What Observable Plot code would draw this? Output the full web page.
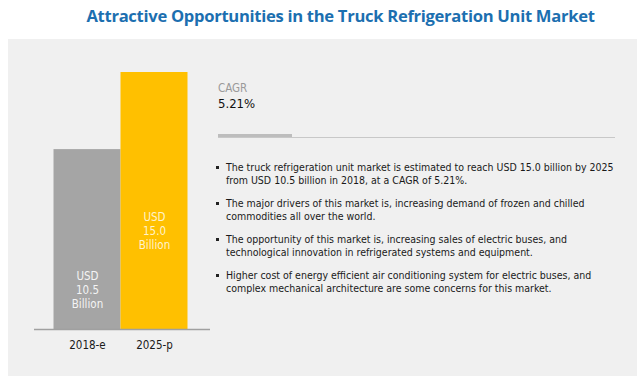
<!DOCTYPE html>
<html>
<head>
<meta charset="utf-8">
<script src="https://cdn.jsdelivr.net/npm/d3@7"></script>
<script src="https://cdn.jsdelivr.net/npm/@observablehq/plot@0.6"></script>
<style>
  body { margin: 0; background: #fff; width: 643px; height: 381px; position: relative; overflow: hidden; }
  #title { position: absolute; left: 0; width: 681px; top: 4px; text-align: center;
    font-family: "Open Sans", sans-serif; font-weight: 700; font-size: 16.6px; color: #1c6fb0; letter-spacing: -0.3px; }
  #panel { position: absolute; left: 8px; top: 39px; width: 629px; height: 337px; background: #f0f0f0; }
  #chart { position: absolute; left: 0; top: 0; }
  .narrow { font-family: "Liberation Sans Narrow", "DejaVu Sans Condensed", sans-serif; }
  #cagrLabel { position: absolute; left: 210px; top: 42px; font-size: 11.5px; color: #9a9a9a; }
  #cagrValue { position: absolute; left: 210px; top: 57px; font-size: 13px; color: #111; }
  #thick { position: absolute; left: 210px; top: 95px; width: 74px; height: 3px; background: #bdbdbd; }
  #thin { position: absolute; left: 210px; top: 98px; width: 397px; height: 1px; background: #c8c8c8; }
  #bullets { position: absolute; left: 207px; top: 122px; margin: 0; padding: 0; list-style: none;
    font-size: 10.5px; color: #1a1a1a; line-height: 13px; }
  #bullets li { position: relative; padding-left: 11px; margin-bottom: 10px; white-space: nowrap; }
  #bullets li::before { content: ""; position: absolute; left: 1px; top: 5px; width: 3px; height: 3px; background: #222; }
</style>
</head>
<body>
<div id="title"></div>
<div id="panel">
  <div id="chart"></div>
  <div id="cagrLabel" class="narrow"></div>
  <div id="cagrValue" class="narrow"></div>
  <div id="thick"></div>
  <div id="thin"></div>
  <ul id="bullets" class="narrow"></ul>
</div>
<script>
const title = "Attractive Opportunities in the Truck Refrigeration Unit Market";
const years = ["2018-e", "2025-p"];
const values = [10.5, 15.0];
const barColors = ["#a5a5a5", "#ffc000"];
const labelColors = ["#f4f4f4", "#fff3cc"];
const cagrLabel = "CAGR";
const cagrValue = "5.21%";
const bullets = [
  ["The truck refrigeration unit market is estimated to reach USD 15.0 billion by 2025", "from USD 10.5 billion in 2018, at a CAGR of 5.21%."],
  ["The major drivers of this market is, increasing demand of frozen and chilled", "commodities all over the world."],
  ["The opportunity of this market is, increasing sales of electric buses, and", "technological innovation in refrigerated systems and equipment."],
  ["Higher cost of energy efficient air conditioning system for electric buses, and", "complex mechanical architecture are some concerns for this market."]
];

document.getElementById("title").textContent = title;
document.getElementById("cagrLabel").textContent = cagrLabel;
document.getElementById("cagrValue").textContent = cagrValue;
const ul = document.getElementById("bullets");
for (const b of bullets) {
  const li = document.createElement("li");
  li.innerHTML = b.map(s => s.replace(/&/g, "&amp;")).join("<br>");
  ul.appendChild(li);
}

const data = years.map((y, i) => ({year: y, value: values[i], color: barColors[i], lc: labelColors[i],
  label: "USD\n" + values[i].toFixed(1) + "\nBillion"}));
// label vertical placement as fraction of bar value
const labelFrac = [0.222, 0.385];

const font = '"Liberation Sans Narrow", "DejaVu Sans Condensed", sans-serif';
const chart = Plot.plot({
  width: 220,
  height: 337,
  marginLeft: 26,
  marginRight: 18,
  marginTop: 33,
  marginBottom: 47,
  style: {background: "transparent", fontFamily: font},
  x: {domain: years, paddingInner: 0, paddingOuter: 0.3, label: null, tickSize: 0, tickPadding: 10},
  y: {domain: [0, 15], axis: null},
  marks: [
    Plot.barY(data, {x: "year", y: "value", fill: "color", dx: -1.5}),
    Plot.ruleY([0], {stroke: "#a0a0a0", strokeWidth: 1.5}),
    Plot.text(data, {x: "year", y: (d, i) => d.value * labelFrac[i], text: "label", fill: "lc",
      fontSize: 11.5, lineHeight: 1.22, dx: -1.5}),
    Plot.axisX({tickSize: 0, tickPadding: 11, fontSize: 11.5, color: "#1a1a1a", label: null, dx: -1.5})
  ]
});
chart.querySelectorAll("g[aria-label='x-axis tick label'] text").forEach(t => t.setAttribute("fill", "#1a1a1a"));
document.getElementById("chart").appendChild(chart);
</script>
</body>
</html>
